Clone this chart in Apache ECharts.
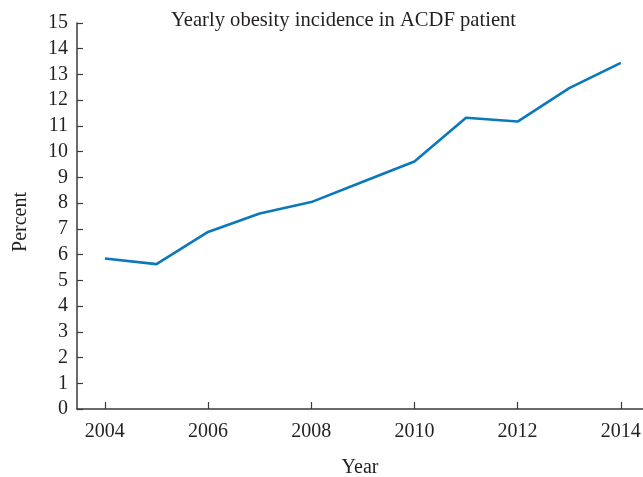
<!DOCTYPE html>
<html>
<head>
<meta charset="utf-8">
<script src="https://cdn.jsdelivr.net/npm/echarts@6/dist/echarts.min.js"></script>
<style>html,body{margin:0;padding:0;background:#fff}#c{width:643px;height:477px}</style>
</head>
<body>
<div id="c"></div>
<script>
var years = [2004, 2005, 2006, 2007, 2008, 2009, 2010, 2011, 2012, 2013, 2014];
var percent = [5.85, 5.63, 6.88, 7.6, 8.04, 8.83, 9.62, 11.32, 11.17, 12.47, 13.45];
var xTicks = [2004, 2006, 2008, 2010, 2012, 2014];
var titleText = 'Yearly obesity incidence in ACDF patient';

var font = 'Liberation Serif';
var axisColor = '#3a3a3a';
var textColor = '#231f20';
var chart = echarts.init(document.getElementById('c'), null, {renderer: 'canvas'});
chart.setOption({
  animation: false,
  title: {
    text: titleText, left: 166, top: 5,
    textStyle: {fontFamily: font, fontSize: 20.6, fontWeight: 'normal', color: textColor}
  },
  grid: {left: 77, right: 0, top: 23, bottom: 68, containLabel: false, outerBoundsMode: 'none'},
  xAxis: {
    type: 'value', min: 2003.46, max: 2014.43,
    name: 'Year', nameLocation: 'middle', nameGap: 49,
    nameTextStyle: {fontFamily: font, fontSize: 20, color: textColor},
    axisLine: {show: true, lineStyle: {color: axisColor, width: 1.5}},
    axisTick: {show: true, inside: true, length: 7, customValues: xTicks, lineStyle: {color: axisColor, width: 1.2}},
    axisLabel: {customValues: xTicks, fontFamily: font, fontSize: 20, color: textColor, margin: 13,
      formatter: function (v) { return String(v); }},
    splitLine: {show: false}
  },
  yAxis: {
    type: 'value', min: 0, max: 15, interval: 1,
    name: 'Percent', nameLocation: 'middle', nameGap: 46, nameRotate: 90,
    nameTextStyle: {fontFamily: font, fontSize: 20, color: textColor, padding: [0, 12, 0, 0]},
    axisLine: {show: true, lineStyle: {color: axisColor, width: 1.5}},
    axisTick: {show: true, inside: true, length: 6, lineStyle: {color: axisColor, width: 1.2}},
    axisLabel: {fontFamily: font, fontSize: 20, color: textColor, margin: 9},
    splitLine: {show: false}
  },
  series: [{
    type: 'line',
    data: years.map(function (y, i) { return [y, percent[i]]; }),
    showSymbol: false,
    lineStyle: {color: '#0a78bb', width: 2.6},
    itemStyle: {color: '#0a78bb'}
  }]
});
</script>
</body>
</html>
